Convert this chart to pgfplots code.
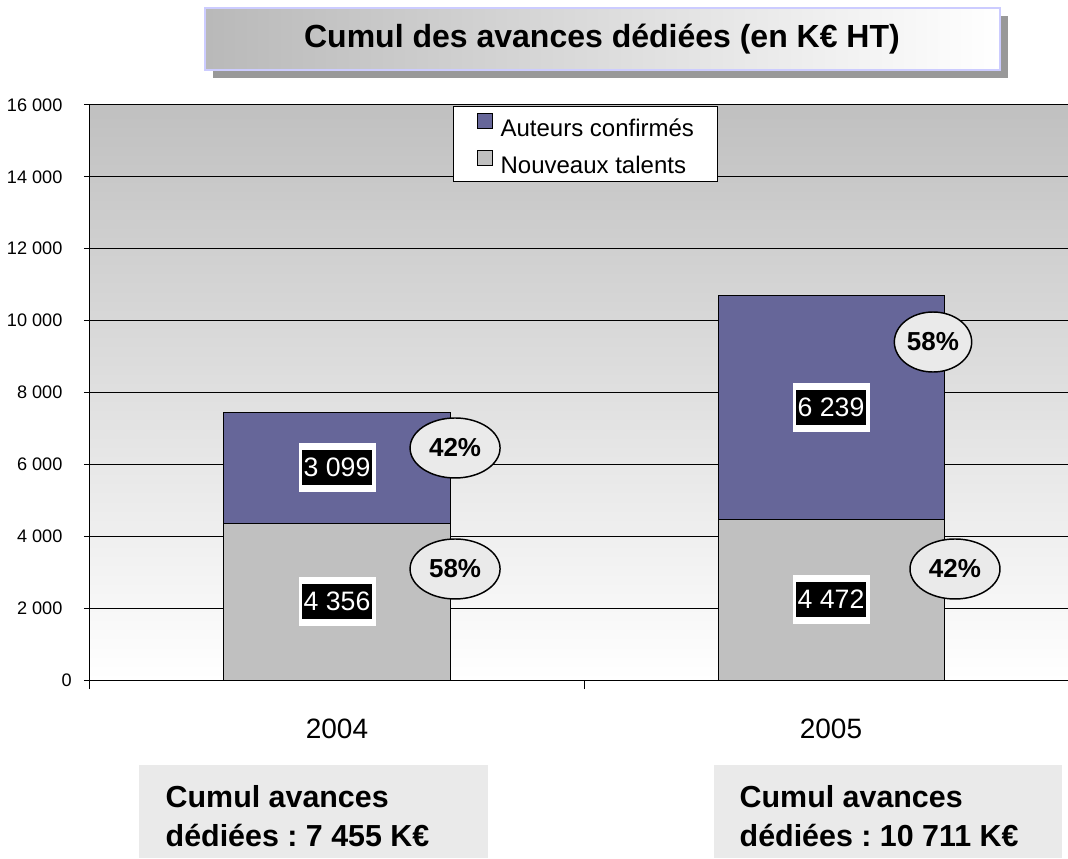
\documentclass[border=0pt]{standalone}
\usepackage{fontspec}
\setmainfont{Liberation Sans}
\frenchspacing
\usepackage{pgfplots}
\pgfplotsset{compat=1.18}
\usetikzlibrary{shapes.geometric}

\definecolor{confirmes}{HTML}{666699}
\definecolor{nouveaux}{HTML}{C0C0C0}
\definecolor{fondhaut}{HTML}{C0C0C0}
\definecolor{bulle}{HTML}{EAEAEA}
\definecolor{cadre}{HTML}{CCCCFF}
\definecolor{ombre}{HTML}{999999}

\tikzset{
  cadreblanc/.style={fill=white, inner sep=0pt, minimum width=57.75pt, minimum height=36.75pt},
  valeur/.style={fill=black, text=white, inner sep=0pt, minimum width=52.5pt,
    minimum height=26.25pt, font=\fontsize{20}{24}\selectfont},
  part/.style={ellipse, draw=black, fill=bulle, line width=1.1pt,
    inner sep=0pt, minimum width=67.5pt, minimum height=45pt,
    font=\bfseries\fontsize{19.5}{23}\selectfont},
}

\begin{document}
\begin{tikzpicture}[x=0.75pt,y=0.75pt]
  \useasboundingbox (0,0) rectangle (1068,858);
  \clip (0,0) rectangle (1068,858);

  % titre
  \fill[ombre] (213,780) rectangle (1008,842);
  \shade[left color=gray!55, right color=white] (205,788) rectangle (1000,850);
  \draw[cadre, line width=1.5pt] (205,788) rectangle (1000,850);
  \node[font=\bfseries\fontsize{24}{28}\selectfont] at (602,819) {Cumul des avances dédiées (en K€ HT)};

  \begin{axis}[
    at={(67.5pt,133.5pt)}, anchor=south west,
    scale only axis, width=741pt, height=431.25pt,
    ybar stacked, bar width=0.4575,
    xmin=-0.5, xmax=1.5, ymin=0, ymax=16000,
    scaled y ticks=false,
    axis x line=bottom, axis y line=left,
    axis line style={-, black, line width=0.75pt},
    clip=false,
    axis background/.style={shade, top color=fondhaut, bottom color=white},
    ymajorgrids, grid style={black, line width=0.75pt},
    tick align=outside, major tick length=4.5pt, minor tick length=6.75pt,
    tick style={black, line width=0.75pt},
    xtick={0,1}, xticklabels={2004,2005},
    major x tick style={draw=none},
    minor xtick={-0.5,0.5,1.5},
    xticklabel style={font=\fontsize{21}{25}\selectfont, anchor=center, yshift=-32pt},
    ytick={0,2000,...,16000},
    yticklabels={\makebox[0pt][l]{0},2 000,4 000,6 000,8 000,10 000,12 000,14 000,16 000},
    yticklabel style={font=\fontsize{13.6}{16}\selectfont, inner xsep=0pt, xshift=-16pt},
    legend style={at={(0.3674,0.998)}, anchor=north west, draw=black, line width=0.75pt,
      fill=white, font=\fontsize{18}{21}\selectfont, inner xsep=17.5pt, inner ysep=4.8pt,
      row sep=8pt, nodes={inner sep=0pt},
      /tikz/every odd column/.append style={column sep=6pt}},
    legend cell align=left, reverse legend,
    legend image code/.code={\draw[#1, line width=0.6pt] (0pt,0.5pt) rectangle (11.25pt,11.75pt);},
  ]
    \addplot[fill=nouveaux, draw=black, line width=0.75pt] coordinates {(0,4356) (1,4472)};
    \addplot[fill=confirmes, draw=black, line width=0.75pt] coordinates {(0,3099) (1,6239)};
    \legend{Nouveaux talents, Auteurs confirmés}

    % reperes des etiquettes
    \coordinate (v1) at (axis cs:0,2178);
    \coordinate (v2) at (axis cs:0,5905.5);
    \coordinate (v3) at (axis cs:1,2236);
    \coordinate (v4) at (axis cs:1,7591.5);
    \coordinate (p1) at (axis cs:0.239,6456);
    \coordinate (p2) at (axis cs:0.239,3089);
    \coordinate (p3) at (axis cs:1.2065,9405);
    \coordinate (p4) at (axis cs:1.251,3089);
  \end{axis}

  % valeurs
  \foreach \c/\t in {v1/4 356, v2/3 099, v3/4 472, v4/6 239} {
    \node[cadreblanc] at (\c) {};
    \node[valeur] at (\c) {\t};
  }

  % parts
  \node[part] at (p1) {42\%};
  \node[part] at (p2) {58\%};
  \node[part, minimum width=58pt] at (p3) {58\%};
  \node[part] at (p4) {42\%};

  % encadres du bas
  \fill[bulle] (139,0) rectangle (488,93);
  \fill[bulle] (714,0) rectangle (1062,93);
  \node[anchor=west, align=left, font=\bfseries\fontsize{22.8}{29.25}\selectfont] at (161,41.5)
    {Cumul avances\\dédiées : 7 455 K€};
  \node[anchor=west, align=left, font=\bfseries\fontsize{22.8}{29.25}\selectfont] at (735,41.5)
    {Cumul avances\\dédiées : 10 711 K€};
\end{tikzpicture}
\end{document}
